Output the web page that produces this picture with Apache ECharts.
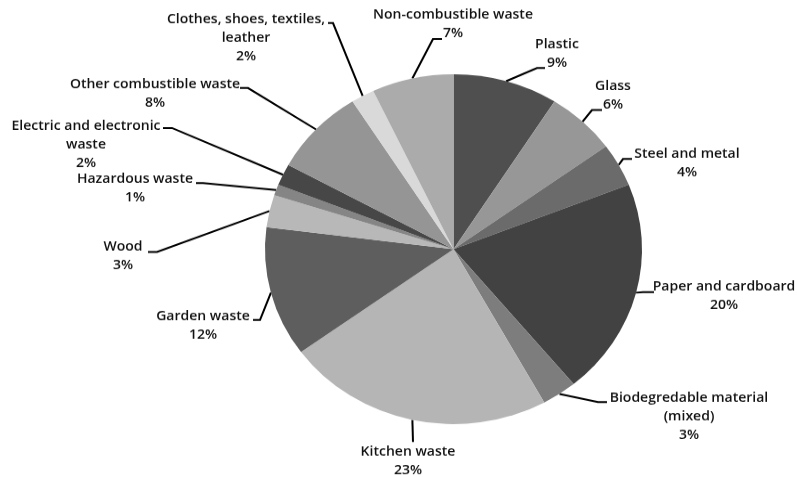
<!DOCTYPE html>
<html>
<head>
<meta charset="utf-8">
<title>Waste composition</title>
<script src="https://cdn.jsdelivr.net/npm/echarts@6/dist/echarts.min.js"></script>
<style>
  html, body { margin: 0; padding: 0; background: #fff; overflow: hidden; }
  /* the chart is drawn taller and squeezed vertically so the pie becomes an ellipse */
  #chart { width: 797px; height: 514px; transform: scaleY(0.928); transform-origin: 0 0; }
</style>
</head>
<body>
<div id="chart"></div>
<script>
// Waste fractions, clockwise from 12 o'clock
const categories = [
  'Plastic',
  'Glass',
  'Steel and metal',
  'Paper and cardboard',
  'Biodegredable material\n(mixed)',
  'Kitchen waste',
  'Garden waste',
  'Wood',
  'Hazardous waste',
  'Electric and electronic\nwaste',
  'Other combustible waste',
  'Clothes, shoes, textiles,\nleather',
  'Non-combustible waste'
];
const shares = [9, 6, 4, 20, 3, 23, 12, 3, 1, 2, 8, 2, 7];
const sliceColors = [
  '#4f4f4f', '#979797', '#6b6b6b', '#424242', '#7d7d7d', '#b5b5b5', '#5e5e5e',
  '#b8b8b8', '#858585', '#474747', '#959595', '#d9d9d9', '#ababab'
];

// Label placement on the page (y in screen pixels, before the vertical squeeze):
// [label centre x, label centre y, elbow x, elbow y, line end x, line end y]
const labelSpots = [
  [557, 53.5, 537, 68, 545, 68],
  [613, 96, 592, 110, 602, 110],
  [687, 163.5, 623, 159, 632, 159],
  [724, 296.5, 643, 292, 654, 292],
  [689, 417, 598, 402, 607, 402],
  [408, 461.5, 413, 442, 413, 442],
  [203, 326, 260, 320, 253, 320],
  [123, 256, 157, 252, 148, 252],
  [135, 188.5, 203, 183, 196, 183],
  [86, 144.5, 172, 128, 163, 128],
  [155, 93.5, 248, 88, 240, 88],
  [246, 38, 333, 23, 328, 23],
  [453, 24.5, 433, 39, 442, 39]
];
const SQUEEZE = 0.928;

const chart = echarts.init(document.getElementById('chart'), null, { renderer: 'canvas' });

chart.setOption({
  animation: false,
  backgroundColor: '#ffffff',
  series: [{
    type: 'pie',
    center: [453.5, 268.5],
    radius: 188.5,
    startAngle: 90,
    clockwise: true,
    avoidLabelOverlap: false,
    minShowLabelAngle: 0,
    percentPrecision: 0,
    silent: true,
    data: categories.map((name, i) => ({
      name: name,
      value: shares[i],
      itemStyle: { color: sliceColors[i] }
    })),
    itemStyle: { borderWidth: 0 },
    label: {
      show: true,
      position: 'outside',
      formatter: '{b}\n{d}%',
      fontFamily: '"Open Sans", sans-serif',
      fontWeight: 600,
      fontSize: 14,
      lineHeight: 20,
      color: '#111111',
      align: 'center'
    },
    labelLine: {
      show: true,
      smooth: false,
      lineStyle: { color: '#000000', width: 2 }
    },
    labelLayout: function (params) {
      const s = labelSpots[params.dataIndex];
      const start = params.labelLinePoints ? params.labelLinePoints[0] : [s[2], s[3] / SQUEEZE];
      return {
        x: s[0],
        y: s[1] / SQUEEZE,
        align: 'center',
        verticalAlign: 'middle',
        labelLinePoints: [
          start,
          [s[2], s[3] / SQUEEZE],
          [s[4], s[5] / SQUEEZE]
        ]
      };
    }
  }]
});
</script>
</body>
</html>
